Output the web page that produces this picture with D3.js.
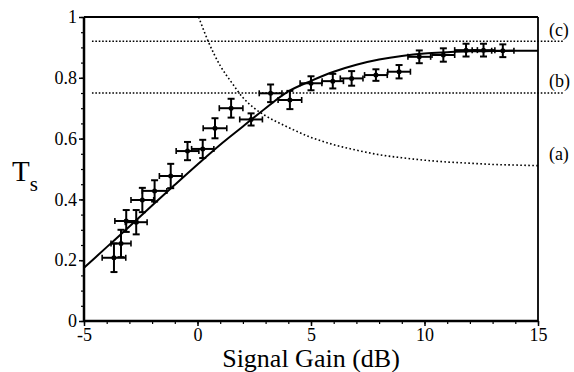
<!DOCTYPE html>
<html>
<head>
<meta charset="utf-8">
<script src="https://cdn.jsdelivr.net/npm/d3@7"></script>
<style>
  body { margin: 0; background: #fff; }
  svg { display: block; }
</style>
</head>
<body>
<div id="chart"></div>
<script>
// measured points (signal gain in dB, Ts) with error bars
var gainX = [-3.68, -3.37, -3.14, -2.70, -2.43, -1.89, -1.18, -0.44, 0.23, 0.77, 1.48, 2.36,
             3.22, 4.07, 5.0, 5.96, 6.79, 7.86, 8.88, 9.77, 10.83, 11.83, 12.6, 13.45];
var tsY = [0.208, 0.255, 0.329, 0.325, 0.398, 0.428, 0.477, 0.559, 0.566, 0.634, 0.700, 0.663,
           0.749, 0.727, 0.782, 0.789, 0.798, 0.809, 0.820, 0.869, 0.875, 0.891, 0.891, 0.889];
var yErr = [0.047, 0.045, 0.036, 0.04, 0.04, 0.035, 0.04, 0.03, 0.03, 0.033, 0.031, 0.02,
            0.029, 0.03, 0.023, 0.024, 0.024, 0.019, 0.022, 0.021, 0.022, 0.021, 0.021, 0.021];
var xErr = [0.52, 0.44, 0.5, 0.48, 0.5, 0.54, 0.5, 0.5, 0.49, 0.52, 0.52, 0.5,
            0.5, 0.52, 0.48, 0.47, 0.5, 0.5, 0.5, 0.5, 0.5, 0.5, 0.5, 0.49];

// solid fit curve
var fitX = [-5, -4, -3, -2, -1, 0, 1, 2, 3, 4, 5, 6, 7, 8, 9, 10, 11, 12, 13, 14, 15];
var fitY = [0.175, 0.243, 0.311, 0.38, 0.448, 0.515, 0.58, 0.64, 0.70, 0.755, 0.79, 0.82,
            0.843, 0.86, 0.872, 0.88, 0.884, 0.887, 0.888, 0.889, 0.889];

// dotted curve (a)
var curveAX = [0.05, 0.5, 1, 1.5, 2, 2.5, 3, 4, 5, 6, 7, 8, 9, 10, 11, 12, 13, 14, 15];
var curveAY = [1.0, 0.915, 0.84, 0.785, 0.735, 0.70, 0.675, 0.637, 0.604, 0.58, 0.562, 0.547,
               0.537, 0.529, 0.523, 0.519, 0.515, 0.513, 0.511];

// dotted levels (c) and (b)
var levelNames = ["(c)", "(b)", "(a)"];
var levelY = [0.92, 0.75];
var levelXRange = [-4.65, 16.1];
var labelY = [0.958, 0.79, 0.55];

var xTicks = [-5, 0, 5, 10, 15];
var yTicks = [0, 0.2, 0.4, 0.6, 0.8, 1];

var serif = "'Liberation Serif', 'Times New Roman', Times, serif";

var margin = {top: 17, right: 36, bottom: 51, left: 84},
    width = 574 - margin.left - margin.right,
    height = 372 - margin.top - margin.bottom;

var svg = d3.select("#chart").append("svg")
    .attr("width", 574)
    .attr("height", 372)
    .attr("font-family", serif);

var g = svg.append("g")
    .attr("transform", "translate(" + margin.left + "," + margin.top + ")");

var x = d3.scaleLinear().domain([-5, 15]).range([0, width]);
var y = d3.scaleLinear().domain([0, 1]).range([height, 0]);

function styleAxis(a, size) {
  a.attr("font-family", serif);
  a.select(".domain").remove();
  a.selectAll("line").attr("stroke-width", size);
  a.selectAll("text").attr("font-family", serif).style("font-size", "18px").attr("fill", "#000");
}

// minor ticks
g.append("g")
    .call(d3.axisLeft(y).tickValues(d3.range(0, 1.001, 0.05)).tickSize(3).tickFormat(""))
    .call(styleAxis, 1.2);

g.append("g")
    .attr("transform", "translate(0," + height + ")")
    .call(d3.axisBottom(x).tickValues(d3.range(-5, 15.001, 1)).tickSize(3).tickFormat(""))
    .call(styleAxis, 1.2);

// major axes
g.append("g")
    .attr("class", "axis axis--y")
    .call(d3.axisLeft(y).tickValues(yTicks).tickSize(5).tickPadding(2)
      .tickFormat(function(d) { return d === 0 || d === 1 ? String(d) : d.toFixed(1); }))
    .call(styleAxis, 1.5);

g.append("g")
    .attr("class", "axis axis--x")
    .attr("transform", "translate(0," + height + ")")
    .call(d3.axisBottom(x).tickValues(xTicks).tickSize(5).tickPadding(2)
      .tickFormat(function(d) { return String(d); }))
    .call(styleAxis, 1.5);

// frame
g.append("line").attr("x1", 0).attr("x2", width).attr("y1", 0).attr("y2", 0)
    .attr("stroke", "#000").attr("stroke-width", 1.8);
g.append("line").attr("x1", width).attr("x2", width).attr("y1", 0).attr("y2", height)
    .attr("stroke", "#000").attr("stroke-width", 1.8);
g.append("line").attr("x1", 0).attr("x2", 0).attr("y1", 0).attr("y2", height)
    .attr("stroke", "#000").attr("stroke-width", 2.5);
g.append("line").attr("x1", 0).attr("x2", width).attr("y1", height).attr("y2", height)
    .attr("stroke", "#000").attr("stroke-width", 2.5);

// dotted level lines
g.selectAll(".level")
    .data(levelY)
    .enter().append("line")
    .attr("class", "level")
    .attr("x1", x(levelXRange[0])).attr("x2", x(levelXRange[1]))
    .attr("y1", function(d) { return y(d); }).attr("y2", function(d) { return y(d); })
    .attr("stroke", "#000").attr("stroke-width", 1.6)
    .attr("stroke-dasharray", "1.6,1.8");

var lineGen = d3.line()
    .x(function(d) { return x(d[0]); })
    .y(function(d) { return y(d[1]); })
    .curve(d3.curveMonotoneX);

g.append("path")
    .datum(d3.zip(curveAX, curveAY))
    .attr("fill", "none").attr("stroke", "#000").attr("stroke-width", 1.6)
    .attr("stroke-dasharray", "1.6,2.4")
    .attr("d", lineGen);

g.append("path")
    .datum(d3.zip(fitX, fitY))
    .attr("fill", "none").attr("stroke", "#000").attr("stroke-width", 2)
    .attr("d", lineGen);

// data points with error bars
var pts = g.selectAll(".pt")
    .data(d3.range(gainX.length))
    .enter().append("g")
    .attr("class", "pt");

pts.append("line")
    .attr("x1", function(i) { return x(gainX[i] - xErr[i]); })
    .attr("x2", function(i) { return x(gainX[i] + xErr[i]); })
    .attr("y1", function(i) { return y(tsY[i]); })
    .attr("y2", function(i) { return y(tsY[i]); })
    .attr("stroke", "#000").attr("stroke-width", 2);

pts.append("line")
    .attr("x1", function(i) { return x(gainX[i]); })
    .attr("x2", function(i) { return x(gainX[i]); })
    .attr("y1", function(i) { return y(tsY[i] - yErr[i]); })
    .attr("y2", function(i) { return y(tsY[i] + yErr[i]); })
    .attr("stroke", "#000").attr("stroke-width", 2);

[-1, 1].forEach(function(s) {
  pts.append("line")
      .attr("x1", function(i) { return x(gainX[i]) - 3.5; })
      .attr("x2", function(i) { return x(gainX[i]) + 3.5; })
      .attr("y1", function(i) { return y(tsY[i] + s * yErr[i]); })
      .attr("y2", function(i) { return y(tsY[i] + s * yErr[i]); })
      .attr("stroke", "#000").attr("stroke-width", 2);
  pts.append("line")
      .attr("x1", function(i) { return x(gainX[i] + s * xErr[i]); })
      .attr("x2", function(i) { return x(gainX[i] + s * xErr[i]); })
      .attr("y1", function(i) { return y(tsY[i]) - 3; })
      .attr("y2", function(i) { return y(tsY[i]) + 3; })
      .attr("stroke", "#000").attr("stroke-width", 1.6);
});

pts.append("circle")
    .attr("cx", function(i) { return x(gainX[i]); })
    .attr("cy", function(i) { return y(tsY[i]); })
    .attr("r", 2.5)
    .attr("fill", "#000");

// curve labels
g.selectAll(".lbl")
    .data(levelNames)
    .enter().append("text")
    .attr("class", "lbl")
    .attr("x", x(15.48))
    .attr("y", function(d, i) { return y(labelY[i]); })
    .attr("dy", "0.35em")
    .style("font-size", "18px")
    .text(function(d) { return d; });

// axis titles
svg.append("text")
    .attr("x", margin.left + width / 2)
    .attr("y", 367)
    .style("text-anchor", "middle")
    .style("font-size", "26px")
    .text("Signal Gain (dB)");

var ty = svg.append("text")
    .attr("x", 12)
    .attr("y", 181)
    .style("font-size", "29px");
ty.append("tspan").text("T");
ty.append("tspan").attr("dy", 10).style("font-size", "21px").text("s");
</script>
</body>
</html>
